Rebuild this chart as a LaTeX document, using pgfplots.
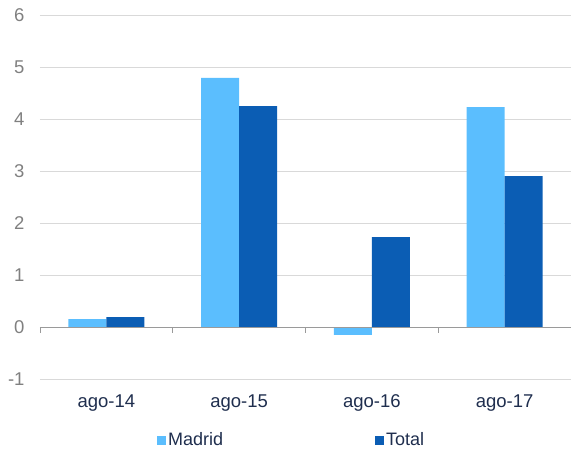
\documentclass[border=0pt]{standalone}
\usepackage{pgfplots}
\pgfplotsset{compat=1.18}
\usepackage{fontspec}
\setmainfont{Liberation Sans}
\definecolor{cMadrid}{HTML}{5BBEFE}
\definecolor{cTotal}{HTML}{0B5DB4}
\definecolor{cNavy}{HTML}{1F2E4E}
\definecolor{cGrayTxt}{HTML}{808080}
\definecolor{cGrid}{HTML}{D9D9D9}
\begin{document}
\begin{tikzpicture}
\useasboundingbox (-40pt,-71pt) rectangle (531pt,379pt);
\begin{axis}[
  at={(0,0)}, anchor=south west,
  scale only axis,
  width=531pt, height=364pt,
  xmin=-0.5, xmax=3.5, ymin=-1, ymax=6,
  ybar=0pt, bar width=38pt,
  axis line style={draw=none},
  xtick={0,1,2,3},
  xticklabels={ago-14,ago-15,ago-16,ago-17},
  ytick={-1,0,1,2,3,4,5,6},
  major tick length=0pt,
  ymajorgrids, grid style={cGrid, line width=0.8pt},
  /pgf/number format/assume math mode=true,
  tick label style={font=\fontsize{18.5}{22}\selectfont},
  yticklabel style={text=cGrayTxt, anchor=east, xshift=-12pt},
  xticklabel style={text=cNavy, anchor=north, yshift=-12pt},
  legend style={at={(axis description cs:0.2203,-0.1676)}, anchor=west, draw=none, fill=none,
    inner sep=0pt, font=\fontsize{18}{22}\selectfont, text=cNavy,
    legend columns=2,
    /tikz/every even column/.append style={column sep=150pt}},
  legend image code/.code={\fill[#1] (0pt,-4.5pt) rectangle (9pt,4.5pt);},
  clip=false,
]
\addplot[fill=cMadrid, draw=none] coordinates {(0,0.15) (1,4.79) (2,-0.15) (3,4.23)};
\addplot[fill=cTotal, draw=none] coordinates {(0,0.19) (1,4.25) (2,1.73) (3,2.90)};
\legend{Madrid,Total}
\draw[cGrayTxt!80, line width=0.8pt] (axis cs:-0.5,0) -- (axis cs:3.5,0);
\draw[cGrayTxt!80, line width=0.8pt] (axis cs:-0.5,0) -- (axis cs:-0.5,-0.115);
\draw[cGrayTxt!80, line width=0.8pt] (axis cs:0.5,0) -- (axis cs:0.5,-0.115);
\draw[cGrayTxt!80, line width=0.8pt] (axis cs:1.5,0) -- (axis cs:1.5,-0.115);
\draw[cGrayTxt!80, line width=0.8pt] (axis cs:2.5,0) -- (axis cs:2.5,-0.115);
\draw[cGrayTxt!80, line width=0.8pt] (axis cs:3.5,0) -- (axis cs:3.5,-0.115);
\end{axis}
\end{tikzpicture}
\end{document}
